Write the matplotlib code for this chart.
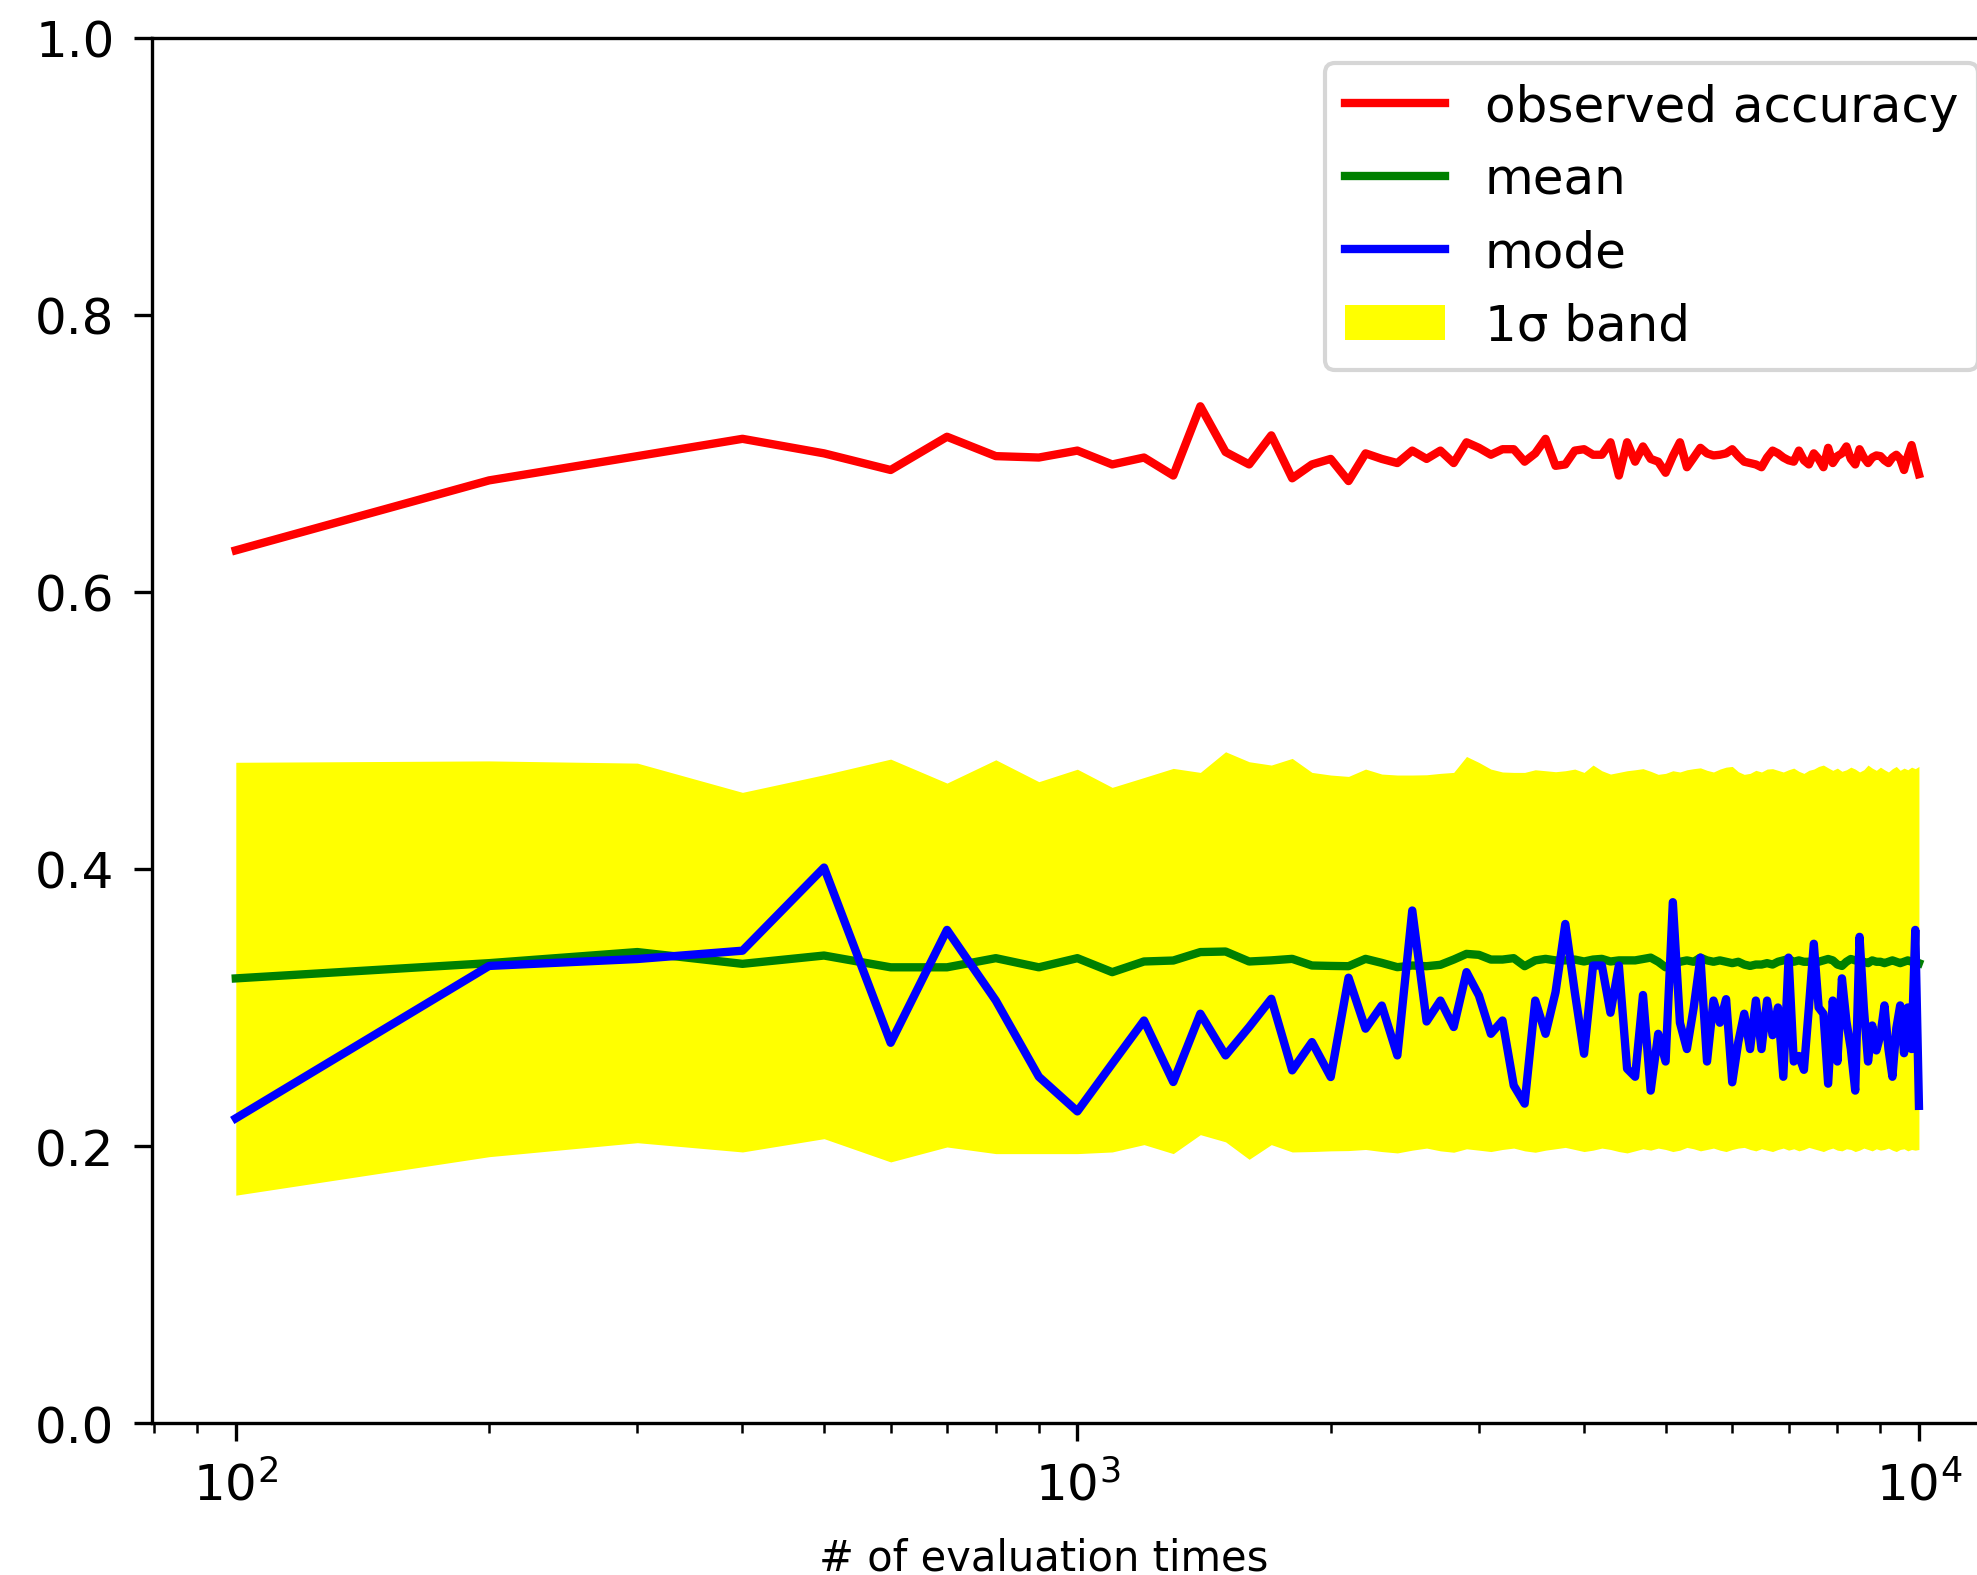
import numpy as np
import matplotlib
matplotlib.use('Agg')
import matplotlib.pyplot as plt

# evaluation counts: 100, 200, ..., 10000
evals = np.arange(100, 10001, 100)

observed = [0.630, 0.6805, 0.698, 0.7105, 0.700, 0.688, 0.712, 0.698, 0.697, 0.702,
            0.692, 0.697, 0.684, 0.734, 0.701, 0.692, 0.713, 0.682, 0.692, 0.696,
            0.680, 0.700, 0.696, 0.693, 0.702, 0.696, 0.702, 0.693, 0.708, 0.704,
            0.699, 0.703, 0.703, 0.694, 0.700, 0.7105, 0.691, 0.692, 0.702, 0.703,
            0.699, 0.699, 0.708, 0.684, 0.708, 0.694, 0.705, 0.696, 0.694, 0.686,
            0.698, 0.708, 0.690, 0.697, 0.704, 0.700, 0.6985, 0.699, 0.700, 0.703,
            0.698, 0.694, 0.693, 0.692, 0.690, 0.697, 0.702, 0.700, 0.697, 0.695,
            0.694, 0.702, 0.695, 0.692, 0.700, 0.696, 0.690, 0.704, 0.693, 0.698,
            0.700, 0.705, 0.696, 0.692, 0.703, 0.697, 0.693, 0.697, 0.6985, 0.698,
            0.695, 0.693, 0.697, 0.699, 0.696, 0.688, 0.698, 0.706, 0.695, 0.685]

mean = [0.321, 0.332, 0.340, 0.3315, 0.3375, 0.329, 0.329, 0.3356, 0.329, 0.3356,
        0.3255, 0.3332, 0.3339, 0.340, 0.3404, 0.3332, 0.334, 0.3351, 0.3303, 0.330,
        0.3298, 0.3351, 0.3322, 0.3291, 0.3303, 0.3298, 0.3308, 0.3346, 0.3387, 0.338,
        0.3346, 0.3346, 0.3356, 0.3298, 0.334, 0.3351, 0.334, 0.334, 0.3346, 0.3332,
        0.3346, 0.3351, 0.3332, 0.334, 0.334, 0.334, 0.335, 0.336, 0.333, 0.329,
        0.330, 0.333, 0.334, 0.333, 0.336, 0.334, 0.333, 0.334, 0.333, 0.332,
        0.333, 0.331, 0.330, 0.331, 0.331, 0.332, 0.331, 0.333, 0.334, 0.335,
        0.333, 0.334, 0.333, 0.333, 0.334, 0.333, 0.334, 0.335, 0.334, 0.331,
        0.330, 0.333, 0.335, 0.334, 0.333, 0.333, 0.332, 0.334, 0.333, 0.333,
        0.332, 0.333, 0.334, 0.333, 0.332, 0.333, 0.334, 0.333, 0.333, 0.332]

mode = [0.220, 0.330, 0.335, 0.341, 0.401, 0.2745, 0.356, 0.305, 0.250, 0.225,
        0.2594, 0.2906, 0.2462, 0.2955, 0.2654, 0.2859, 0.3063, 0.2546, 0.275, 0.2498,
        0.3215, 0.2847, 0.3014, 0.2654, 0.370, 0.2899, 0.305, 0.2859, 0.3255, 0.3087,
        0.281, 0.2906, 0.2437, 0.2306, 0.305, 0.281, 0.3111, 0.3603, 0.3111, 0.2666,
        0.3303, 0.3303, 0.2962, 0.3303, 0.2558, 0.250, 0.309, 0.240, 0.281, 0.261,
        0.376, 0.289, 0.270, 0.300, 0.336, 0.261, 0.305, 0.289, 0.306, 0.246,
        0.275, 0.2955, 0.270, 0.305, 0.270, 0.305, 0.280, 0.300, 0.250, 0.336,
        0.261, 0.265, 0.255, 0.300, 0.346, 0.300, 0.2955, 0.245, 0.305, 0.261,
        0.321, 0.290, 0.270, 0.240, 0.351, 0.300, 0.261, 0.287, 0.269, 0.280,
        0.3015, 0.270, 0.250, 0.285, 0.3015, 0.267, 0.300, 0.270, 0.356, 0.229]

band_hi = [0.477, 0.478, 0.4764, 0.4553, 0.468, 0.4793, 0.462, 0.4788, 0.463, 0.472,
           0.4589, 0.466, 0.4726, 0.4697, 0.4846, 0.4774, 0.475, 0.4798, 0.4697, 0.4678,
           0.4668, 0.4721, 0.4685, 0.4678, 0.4678, 0.468, 0.469, 0.4697, 0.4812, 0.4769,
           0.4721, 0.470, 0.4697, 0.4697, 0.4716, 0.4709, 0.4702, 0.4709, 0.4721, 0.4697,
           0.475, 0.4709, 0.4685, 0.4697, 0.4709, 0.4716, 0.4724, 0.4705, 0.4683, 0.469,
           0.4709, 0.470, 0.4716, 0.4724, 0.473, 0.4712, 0.470, 0.4721, 0.4735, 0.474,
           0.4702, 0.4683, 0.469, 0.4712, 0.470, 0.4721, 0.4724, 0.4712, 0.470, 0.4716,
           0.4728, 0.4705, 0.469, 0.4712, 0.4721, 0.474, 0.475, 0.473, 0.4712, 0.4728,
           0.4705, 0.4716, 0.4735, 0.4721, 0.470, 0.4716, 0.475, 0.4728, 0.4712, 0.4735,
           0.4716, 0.470, 0.4724, 0.474, 0.4712, 0.4728, 0.4716, 0.4735, 0.4724, 0.474]

band_lo = [0.1645, 0.1923, 0.2024, 0.1957, 0.2053, 0.1885, 0.1993, 0.1945, 0.1945, 0.1945,
           0.1957, 0.201, 0.1945, 0.2082, 0.203, 0.1904, 0.201, 0.1957, 0.196, 0.1965,
           0.1967, 0.1975, 0.1960, 0.1950, 0.1970, 0.1985, 0.1965, 0.1955, 0.1980, 0.1970,
           0.1960, 0.1975, 0.1985, 0.1965, 0.1955, 0.1970, 0.1980, 0.1990, 0.1975, 0.1960,
           0.1970, 0.1985, 0.1975, 0.1960, 0.1950, 0.1965, 0.1980, 0.1970, 0.1985, 0.1975,
           0.1960, 0.1970, 0.1990, 0.1980, 0.1965, 0.1975, 0.1985, 0.1970, 0.1960, 0.1975,
           0.1985, 0.1990, 0.1975, 0.1965, 0.1980, 0.1970, 0.1960, 0.1975, 0.1985, 0.1970,
           0.1980, 0.1965, 0.1975, 0.1990, 0.1980, 0.1970, 0.1960, 0.1975, 0.1985, 0.1970,
           0.1965, 0.1980, 0.1975, 0.1960, 0.1970, 0.1985, 0.1975, 0.1965, 0.1980, 0.1970,
           0.1975, 0.1985, 0.1970, 0.1960, 0.1975, 0.1980, 0.1965, 0.1975, 0.1970, 0.1975]

fig = plt.figure(figsize=(6.59, 5.2533), dpi=300)
# axes runs a little past the right edge of the canvas
ax = fig.add_axes([0.0767, 0.0964, 0.9365, 0.8790])

ax.plot(evals, observed, color='red', lw=2, label='observed accuracy')
ax.plot(evals, mean, color='green', lw=2, label='mean')
ax.plot(evals, mode, color='blue', lw=2, label='mode')
ax.fill_between(evals, band_lo, band_hi, color='yellow', lw=0, label='1σ band')

ax.set_xscale('log')
ax.set_ylim(0, 1.0)
ax.tick_params(axis='both', which='major', labelsize=12, length=4.4, pad=4.5)
ax.tick_params(axis='x', which='minor', length=2.5)
ax.set_xlabel('# of evaluation times', fontsize=10)
ax.xaxis.set_label_coords(0.482, -0.082)

ax.legend(loc='upper right', fontsize=12)

fig.savefig('out.png', dpi=300)
